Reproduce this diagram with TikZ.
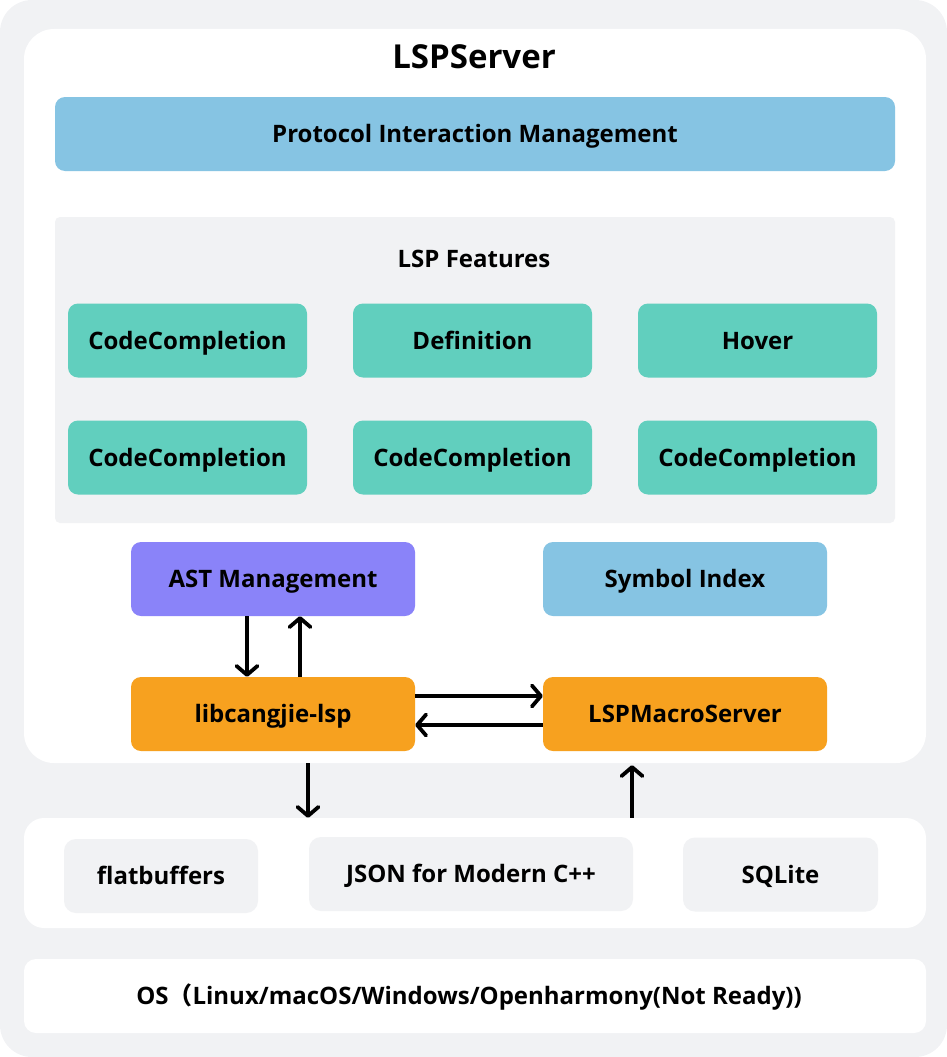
\documentclass[tikz,border=0pt]{standalone}
\usepackage{fontspec}
\setmainfont{Open Sans}
\newfontfamily\cjk{Noto Sans CJK SC}
\usepackage{xcolor}
\usepackage{tikz}
\usetikzlibrary{arrows.meta, positioning, calc}

\definecolor{bggray}{HTML}{F1F2F4}
\definecolor{protoblue}{HTML}{86C4E3}
\definecolor{featgreen}{HTML}{61CFBE}
\definecolor{astpurple}{HTML}{8A83F9}
\definecolor{coreorange}{HTML}{F7A11F}

\begin{document}
\begin{tikzpicture}[x=1pt, y=-1pt,
    label text/.style={inner sep=0pt, text height=17.1pt, text depth=0pt,
      font=\fontsize{24}{24}\selectfont\bfseries},
    title text/.style={inner sep=0pt, text height=23.6pt, text depth=0pt,
      font=\fontsize{33}{33}\selectfont\bfseries},
    panel/.style={fill=white, rounded corners=#1, inner sep=0pt},
    box/.style={fill=#1, rounded corners=10pt, label text, minimum height=74pt},
    flow/.style={line width=3.8pt, -{Straight Barb[length=9pt, width=21pt, round]}}]

      % background
      \fill[bggray, rounded corners=32pt] (0,0) rectangle (947,1057);
      \useasboundingbox (0,0) rectangle (947,1057);

      % LSPServer
      \node[panel=30pt, minimum width=902pt, minimum height=734pt] (server) at (475,396) {};
      \node[title text] (title) at (474,57) {LSPServer};
      \node[box=protoblue, minimum width=840pt] (protocol) at (475,134) {Protocol Interaction Management};

      % LSP Features
      \node[fill=bggray, rounded corners=5pt, minimum width=840pt, minimum height=306pt] (features) at (475,370) {};
      \node[label text] (feattitle) at (474,259) {LSP Features};
      \node[box=featgreen, minimum width=239pt] (cc1) at (187.5,340.5) {CodeCompletion};
      \node[box=featgreen, minimum width=239pt] (def) at (472.5,340.5) {Definition};
      \node[box=featgreen, minimum width=239pt] (hover) at (757.5,340.5) {Hover};
      \node[box=featgreen, minimum width=239pt] (cc2) at (187.5,457.5) {CodeCompletion};
      \node[box=featgreen, minimum width=239pt] (cc3) at (472.5,457.5) {CodeCompletion};
      \node[box=featgreen, minimum width=239pt] (cc4) at (757.5,457.5) {CodeCompletion};

      % core
      \node[box=astpurple, minimum width=284pt] (ast) at (273,579) {AST Management};
      \node[box=protoblue, minimum width=284pt] (symidx) at (685,579) {Symbol Index};
      \node[box=coreorange, minimum width=284pt] (lib) at (273,714) {libcangjie-lsp};
      \node[box=coreorange, minimum width=284pt] (macro) at (685,714) {LSPMacroServer};

      \draw[flow] ([xshift=-26pt]ast.south) -- ([xshift=-26pt]lib.north);
      \draw[flow] ([xshift=27pt]lib.north) -- ([xshift=27pt]ast.south);
      \draw[flow] ([yshift=18pt]lib.east) -- ([yshift=18pt]macro.west);
      \draw[flow] ([yshift=-11pt]macro.west) -- ([yshift=-11pt]lib.east);

      % third party
      \node[panel=20pt, minimum width=902pt, minimum height=110pt] (deps) at (475,873) {};
      \node[box=bggray, rounded corners=12pt, minimum width=194pt] (flatbuf) at (161,876) {flatbuffers};
      \node[box=bggray, rounded corners=12pt, minimum width=324pt] (json) at (471,874) {JSON for Modern C++};
      \node[box=bggray, rounded corners=12pt, minimum width=195pt] (sqlite) at (780.5,874.5) {SQLite};

      \coordinate (libout) at (308,0);
      \coordinate (macroin) at (632,0);
      \draw[flow] (server.south -| libout) -- (deps.north -| libout);
      \draw[flow] (deps.north -| macroin) -- ([yshift=-2pt]server.south -| macroin);

      % OS
      \node[panel=12pt, minimum width=902pt, minimum height=74pt] (osbox) at (475,996) {};
      \node[label text] (ostext) at (469,996)
        {OS{\cjk （}Linux/macOS/Windows/Openharmony(Not Ready))};
    \end{tikzpicture}
\end{document}
